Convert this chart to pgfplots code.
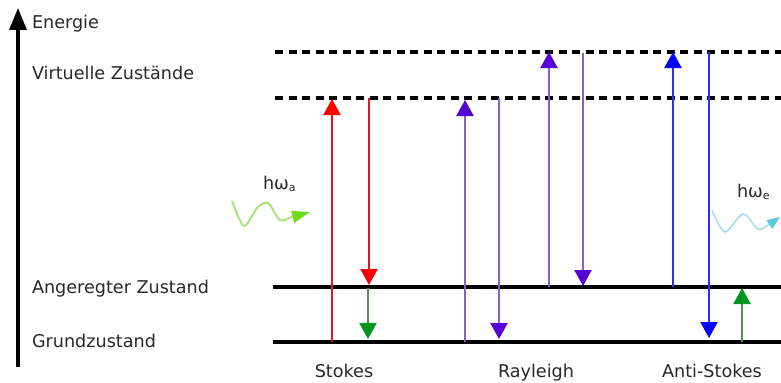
\documentclass[border=0pt]{standalone}
\usepackage{pgfplots}
\pgfplotsset{compat=1.18}
\usetikzlibrary{arrows.meta}
\usepackage{fontspec}
\setmainfont{DejaVu Sans}
\definecolor{rline}{RGB}{235,20,30}
\definecolor{rhead}{RGB}{255,0,0}
\definecolor{pline}{RGB}{140,95,200}
\definecolor{phead}{RGB}{85,0,212}
\definecolor{bline}{RGB}{45,45,245}
\definecolor{bhead}{RGB}{0,0,255}
\definecolor{gline}{RGB}{80,150,80}
\definecolor{ghead}{RGB}{0,150,30}
\definecolor{wgreen}{RGB}{160,230,110}
\definecolor{wgreenh}{RGB}{110,220,30}
\definecolor{wcyan}{RGB}{160,220,235}
\definecolor{wcyanh}{RGB}{90,200,230}
\definecolor{txt}{RGB}{40,40,40}
\tikzset{lbl/.style={font=\fontsize{17.6bp}{21bp}\selectfont, text=txt, inner sep=0pt, outer sep=0pt},
  ah/.style={-{Triangle[width=17bp,length=16bp,color=#1]}}}
\begin{document}
\begin{tikzpicture}
\begin{axis}[
  width=781bp, height=383bp, scale only axis,
  xmin=0, xmax=781, ymin=0, ymax=383, y dir=reverse,
  hide axis, clip=false,
]
% energy axis
\addplot[black, line width=3.2bp, -{Triangle[width=17bp,length=22bp]}] coordinates {(18,367) (18,8)};
% virtual states (dashed)
\addplot[black, line width=3.2bp, dash pattern=on 8bp off 5.5bp] coordinates {(275,52) (781,52)};
\addplot[black, line width=3.2bp, dash pattern=on 8bp off 5.5bp] coordinates {(275,98) (781,98)};
% real states
\addplot[black, line width=3.2bp] coordinates {(273,287) (781,287)};
\addplot[black, line width=3.2bp] coordinates {(273,342) (781,342)};
% Stokes
\addplot[rline, line width=2.2bp, ah=rhead] coordinates {(332,342) (332,99)};
\addplot[rline, line width=2.2bp, ah=rhead] coordinates {(369,98) (369,285)};
\addplot[gline, line width=2.2bp, ah=ghead] coordinates {(368,288) (368,339)};
% Rayleigh
\addplot[pline, line width=2.2bp, ah=phead] coordinates {(465,342) (465,100)};
\addplot[pline, line width=2.2bp, ah=phead] coordinates {(499,98) (499,339)};
\addplot[pline, line width=2.2bp, ah=phead] coordinates {(549,287) (549,52)};
\addplot[pline, line width=2.2bp, ah=phead] coordinates {(583,53) (583,286)};
% Anti-Stokes
\addplot[bline, line width=2.2bp, ah=bhead] coordinates {(673,287) (673,52)};
\addplot[bline, line width=2.2bp, ah=bhead] coordinates {(709,52) (709,338)};
\addplot[gline, line width=2.2bp, ah=ghead] coordinates {(742,342) (742,288)};
% photons
\addplot[wgreen, line width=1.8bp, smooth, -{Triangle[width=12bp,length=18bp,color=wgreenh]}] coordinates {(232,201) (244,226) (257,208) (268,203) (280,220) (292,217) (310,212)};
\addplot[wcyan, line width=1.5bp, smooth, -{Triangle[width=10bp,length=13bp,color=wcyanh]}] coordinates {(712,210) (725,232) (743,214) (758,229) (768,225) (780,217)};
% labels
\node[lbl, anchor=base west] at (axis cs:32,29) {Energie};
\node[lbl, anchor=base west] at (axis cs:32,79) {Virtuelle Zustände};
\node[lbl, anchor=base west] at (axis cs:32,293) {Angeregter Zustand};
\node[lbl, anchor=base west] at (axis cs:32,347) {Grundzustand};
\node[lbl, anchor=base] at (axis cs:344,377) {Stokes};
\node[lbl, anchor=base] at (axis cs:536,377) {Rayleigh};
\node[lbl, anchor=base] at (axis cs:712,377) {Anti-Stokes};
\node[lbl, anchor=base west] at (axis cs:263,189) {hω\raisebox{-0.25ex}{\fontsize{11bp}{13bp}\selectfont a}};
\node[lbl, anchor=base west] at (axis cs:737,197) {hω\raisebox{-0.25ex}{\fontsize{11bp}{13bp}\selectfont e}};
\end{axis}
\pgfresetboundingbox
\useasboundingbox (current axis.south west) rectangle (current axis.north east);
\end{tikzpicture}
\end{document}
